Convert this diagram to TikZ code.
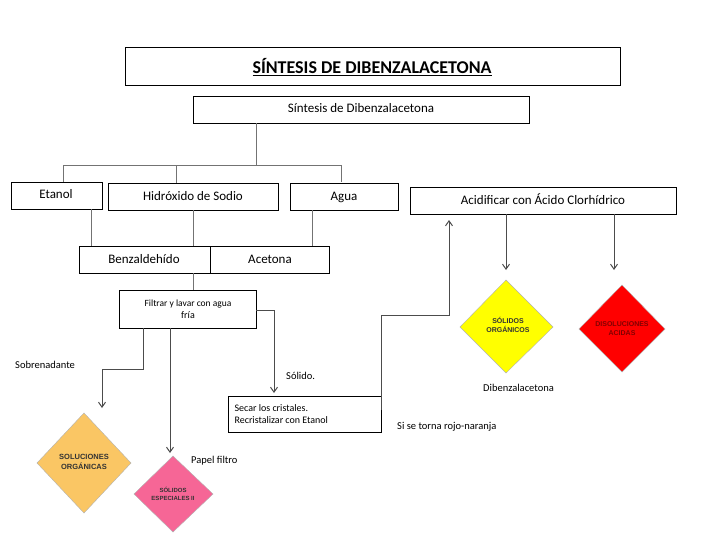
\documentclass[tikz,border=0pt]{standalone}
\usepackage{fontspec}
\setmainfont{Carlito}
\newfontfamily\arialf{Liberation Sans}
\usetikzlibrary{arrows.meta}
\begin{document}
\begin{tikzpicture}[x=1pt,y=-1pt,
  box/.style={draw,line width=0.8pt,inner sep=0pt},
  bt/.style={font=\fontsize{13}{15}\selectfont,text height=9pt,text depth=2.5pt,inner sep=0pt},
  con/.style={draw=black!55,line width=1pt},
  arr/.style={draw=black!70,line width=0.9pt,-{Straight Barb[length=5pt,width=7pt,line width=1pt]}},
  dia/.style={draw=black!30,line width=0.4pt},
  dtxt/.style={font=\arialf\bfseries\fontsize{7.5}{9.5}\selectfont,align=center,text=black!80},
  lbl/.style={font=\fontsize{10.5}{12}\selectfont,anchor=west,inner sep=0pt}]
\path[use as bounding box] (0,0) rectangle (728,546);
% boxes
\draw[box] (125,47) rectangle (620,85);
\node (title) at (372,67) {\fontsize{18}{20}\selectfont\bfseries\underline{SÍNTESIS DE DIBENZALACETONA}};
\draw[box] (193,96) rectangle (529,123);
\node[bt] (sub) at (361,109) {Síntesis de Dibenzalacetona};
\draw[box] (11,182) rectangle (102,209); \node[bt] (et) at (56,195) {Etanol};
\draw[box] (108,183) rectangle (278,210); \node[bt] (hid) at (193,197) {Hidróxido de Sodio};
\draw[box] (290,183) rectangle (398,210); \node[bt] (ag) at (344,197) {Agua};
\draw[box] (410,187) rectangle (676,214); \node[bt] (ac) at (543,201) {Acidificar con Ácido Clorhídrico};
\draw[box] (79,246) rectangle (210,273); \node[bt] (bz) at (144,260) {Benzaldehído};
\draw[box] (210,246) rectangle (329,273); \node[bt] (act) at (270,260) {Acetona};
\draw[box] (119,290) rectangle (256,328);
\node[align=center] (fil) at (188,309) {\fontsize{9.5}{13}\selectfont Filtrar y lavar con agua\\ fría};
\draw[box] (228,396) rectangle (381,432);
\node[align=left,anchor=west] (sec) at (231,414) {\fontsize{10}{14}\selectfont Secar los cristales.\\Recristalizar con Etanol};
% connectors
\draw[con] (256,123) -- (256,165);
\draw[con] (63,182) -- (63,165) -- (341,165) -- (341,182);
\draw[con] (176,165) -- (176,183);
\draw[con] (91,209) -- (91,246);
\draw[con] (193,210) -- (193,246);
\draw[con] (312,210) -- (312,246);
\draw[con] (193,273) -- (193,290);
\draw[arr] (256,310) -- (274,310) -- (274,393);
\draw[arr] (143,328) -- (143,369) -- (102,369) -- (102,408);
\draw[arr] (170,328) -- (170,453);
\draw[arr] (381,410) -- (381,315) -- (449,315) -- (449,220);
\draw[arr] (506,214) -- (506,270);
\draw[arr] (614,214) -- (614,270);
% diamonds
\filldraw[dia,fill={rgb,255:red,250;green,198;blue,100}] (84,413) -- (131,463) -- (84,513) -- (37,463) -- cycle;
\node[dtxt] (so) at (84,462) {SOLUCIONES\\ORGÁNICAS};
\filldraw[dia,fill={rgb,255:red,246;green,102;blue,150}] (173,456) -- (213,494) -- (173,532) -- (134,494) -- cycle;
\node[dtxt,font=\arialf\bfseries\fontsize{6}{8}\selectfont] (se) at (173,494) {SÓLIDOS\\ESPECIALES II};
\filldraw[dia,fill={rgb,255:red,255;green,255;blue,0}] (506,280) -- (553,327) -- (506,373) -- (460,327) -- cycle;
\node[dtxt,font=\arialf\bfseries\fontsize{7}{9}\selectfont] (yo) at (508,325) {SÓLIDOS\\ORGÁNICOS};
\filldraw[dia,fill={rgb,255:red,255;green,0;blue,0}] (622,285) -- (665,329) -- (622,372) -- (579,329) -- cycle;
\node[dtxt,font=\arialf\bfseries\fontsize{7}{9}\selectfont,text={rgb,255:red,130;green,0;blue,0}] (ro) at (622,329) {DISOLUCIONES\\ACIDAS};
% labels
\node[lbl] (l1) at (15,365) {Sobrenadante};
\node[lbl] (l2) at (191,461) {Papel filtro};
\node[lbl] (l3) at (286,376) {Sólido.};
\node[lbl] (l4) at (483,388) {Dibenzalacetona};
\node[lbl] (l5) at (397,427) {Si se torna rojo-naranja};
\end{tikzpicture}
\end{document}
